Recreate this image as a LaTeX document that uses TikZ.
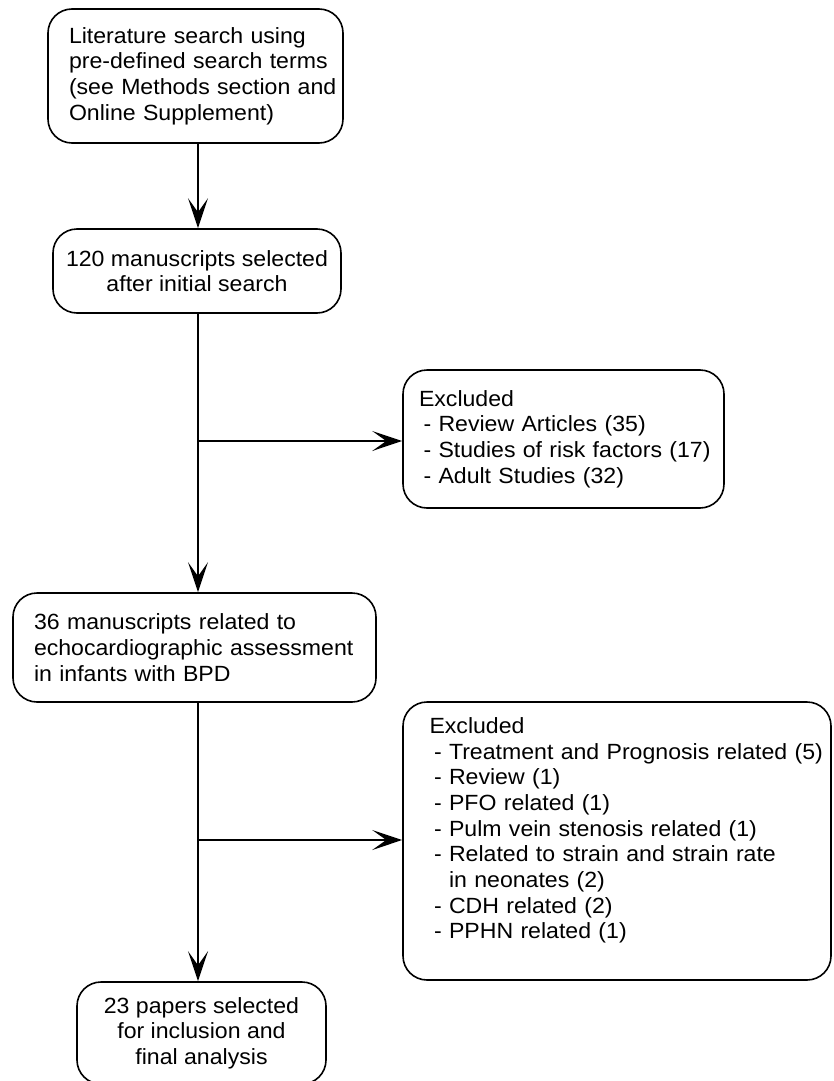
\documentclass[tikz,border=0pt]{standalone}
\usepackage{fontspec}
\setmainfont{Liberation Sans}[FakeStretch=1.05]
\usetikzlibrary{arrows.meta}
\begin{document}
\begin{tikzpicture}[x=1pt,y=-1pt,
  box/.style={draw, line width=1.6pt, rounded corners=24pt, inner xsep=0pt, inner ysep=0pt,
    font=\fontsize{22}{25.7}\selectfont},
  arr/.style={line width=1.6pt, -{Stealth[length=30pt,width=20pt,inset=14pt]}}]
\useasboundingbox (0,0) rectangle (833,1081);
\node[box, minimum width=295pt, minimum height=134pt, text width=253pt, align=left] (s1) at (195.5,76)
  {\mbox{Literature search using}\\\mbox{pre-defined search terms}\\\mbox{(see Methods section and}\\\mbox{Online Supplement)}};
\node[box, minimum width=288pt, minimum height=84pt, align=center] (s2) at (197,271)
  {120 manuscripts selected\\after initial search};
\node[box, minimum width=363pt, minimum height=109pt, text width=321pt, align=left] (s3) at (194.5,647.5)
  {\mbox{36 manuscripts related to}\\\mbox{echocardiographic assessment}\\\mbox{in infants with BPD}};
\node[box, minimum width=249pt, minimum height=102pt, align=center] (s4) at (201.5,1033)
  {23 papers selected\\for inclusion and\\final analysis};
\node[box, minimum width=321pt, minimum height=138pt, text width=289pt, align=left] (e1) at (563.5,439)
  {Excluded\\\mbox{\hspace*{4.5pt}- Review Articles (35)}\\\mbox{\hspace*{4.5pt}- Studies of risk factors (17)}\\\mbox{\hspace*{4.5pt}- Adult Studies (32)}};
\node[box, minimum width=428pt, minimum height=278pt, text width=375pt, align=left] (e2) at (617,841)
  {Excluded\\\mbox{\hspace*{4.5pt}- Treatment and Prognosis related (5)}\\\mbox{\hspace*{4.5pt}- Review (1)}\\\mbox{\hspace*{4.5pt}- PFO related (1)}\\\mbox{\hspace*{4.5pt}- Pulm vein stenosis related (1)}\\\mbox{\hspace*{4.5pt}- Related to strain and strain rate}\\\mbox{\hspace*{4.5pt}\phantom{- }in neonates (2)}\\\mbox{\hspace*{4.5pt}- CDH related (2)}\\\mbox{\hspace*{4.5pt}- PPHN related (1)}\\\mbox{}};
\coordinate (b1) at (198,441);
\coordinate (b2) at (198,840);
\draw[arr] (s1.south -| b1) -- (s2.north -| b1);
\draw[arr] (s2.south -| b1) -- (s3.north -| b1);
\draw[arr] (b1) -- (b1 -| e1.west);
\draw[arr] (s3.south -| b2) -- (s4.north -| b2);
\draw[arr] (b2) -- (b2 -| e2.west);
\end{tikzpicture}
\end{document}
